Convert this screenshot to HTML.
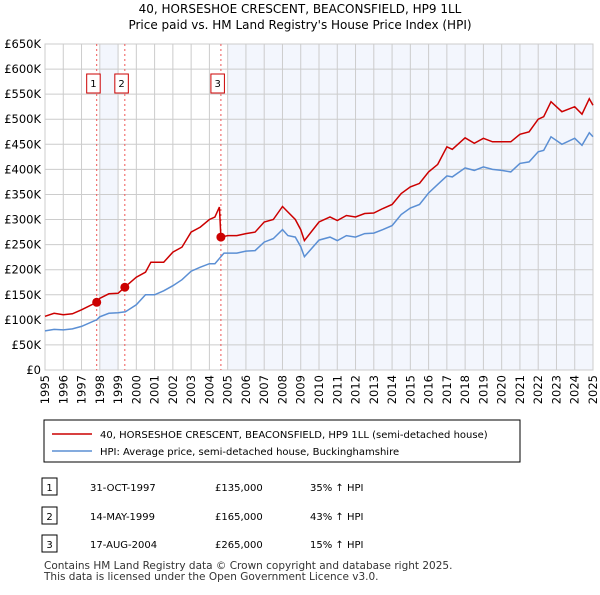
<!DOCTYPE html>
<html><head><meta charset="utf-8"><style>
body{margin:0;background:#fff;font-family:"Liberation Sans","DejaVu Sans",sans-serif;}
svg text{font-family:"DejaVu Sans","Liberation Sans",sans-serif;}
</style></head><body>
<svg width="600" height="590" xmlns="http://www.w3.org/2000/svg" id="chart">
<text x="300" y="13" text-anchor="middle" font-size="12">40, HORSESHOE CRESCENT, BEACONSFIELD, HP9 1LL</text>
<text x="300" y="29" text-anchor="middle" font-size="12">Price paid vs. HM Land Registry's House Price Index (HPI)</text>
<g id="plot"></g>
<rect x="44" y="420" width="476" height="42" fill="#fff" stroke="#000"/>
<line x1="52" y1="434" x2="92" y2="434" stroke="#cc0000" stroke-width="1.5"/>
<text x="100" y="438" font-size="10">40, HORSESHOE CRESCENT, BEACONSFIELD, HP9 1LL (semi-detached house)</text>
<line x1="52" y1="451" x2="92" y2="451" stroke="#5b8fd4" stroke-width="1.5"/>
<text x="100" y="455" font-size="10">HPI: Average price, semi-detached house, Buckinghamshire</text>
<g id="table" font-size="10"></g>
<text x="44" y="569" font-size="10.5" fill="#333">Contains HM Land Registry data © Crown copyright and database right 2025.</text>
<text x="44" y="580" font-size="10.5" fill="#333">This data is licensed under the Open Government Licence v3.0.</text>
</svg>
<script>
const hpiYears=[1995,1995.5,1996,1996.5,1997,1997.83,1998,1998.5,1999,1999.4,2000,2000.5,2001,2001.5,2002,2002.5,2003,2003.5,2004,2004.3,2004.8,2005.5,2006,2006.5,2007,2007.5,2008,2008.3,2008.7,2009,2009.2,2010,2010.6,2011,2011.5,2012,2012.5,2013,2013.5,2014,2014.5,2015,2015.5,2016,2016.5,2017,2017.3,2018,2018.5,2019,2019.5,2020,2020.5,2021,2021.5,2022,2022.3,2022.7,2023.3,2024,2024.4,2024.8,2025];
const hpiValues=[78000,81000,80000,82000,87000,100000,106000,113000,114000,116000,130000,150000,150000,158000,168000,180000,197000,205000,212000,212000,233000,233000,237000,238000,255000,262000,280000,268000,265000,246000,226000,259000,265000,258000,268000,265000,272000,273000,280000,288000,310000,323000,330000,353000,370000,387000,385000,403000,398000,405000,400000,398000,395000,412000,415000,435000,438000,465000,450000,462000,448000,473000,465000];
const redYears=[1995,1995.5,1996,1996.5,1997,1997.83,1998,1998.5,1999,1999.37,2000,2000.5,2000.8,2001.5,2002,2002.5,2003,2003.5,2004,2004.3,2004.55,2004.63,2005,2005.5,2006,2006.5,2007,2007.5,2008,2008.3,2008.7,2009,2009.2,2010,2010.6,2011,2011.5,2012,2012.5,2013,2013.5,2014,2014.5,2015,2015.5,2016,2016.5,2017,2017.3,2018,2018.5,2019,2019.5,2020,2020.5,2021,2021.5,2022,2022.3,2022.7,2023.3,2024,2024.4,2024.8,2025];
const redValues=[107000,113000,110000,112000,120000,135000,143000,152000,153000,165000,185000,195000,215000,215000,235000,245000,275000,285000,300000,305000,325000,265000,268000,268000,272000,275000,295000,300000,326000,315000,300000,280000,258000,295000,305000,298000,308000,305000,312000,313000,322000,330000,352000,365000,372000,395000,410000,445000,440000,463000,452000,462000,455000,455000,455000,470000,475000,500000,505000,535000,515000,525000,510000,541000,528000];
const saleLabels=["1","2","3"];
const saleDates=[1997.83,1999.37,2004.63];
const salePrices=[135000,165000,265000];
const saleDateText=["31-OCT-1997","14-MAY-1999","17-AUG-2004"];
const salePriceText=["£135,000","£165,000","£265,000"];
const saleHpiText=["35% ↑ HPI","43% ↑ HPI","15% ↑ HPI"];
const yTicks=[0,50000,100000,150000,200000,250000,300000,350000,400000,450000,500000,550000,600000,650000];
const yTickLabels=["£0","£50K","£100K","£150K","£200K","£250K","£300K","£350K","£400K","£450K","£500K","£550K","£600K","£650K"];
const xTicks=[1995,1996,1997,1998,1999,2000,2001,2002,2003,2004,2005,2006,2007,2008,2009,2010,2011,2012,2013,2014,2015,2016,2017,2018,2019,2020,2021,2022,2023,2024,2025];
const X0=45,X1=593,Y0=370,Y1=44;
const xs=y=>X0+(y-1995)/30*(X1-X0);
const ys=v=>Y0-v/650000*(Y0-Y1);
const NS="http://www.w3.org/2000/svg";
const plot=document.getElementById('plot');
function mk(t,a,p){const e=document.createElementNS(NS,t);for(const k in a)e.setAttribute(k,a[k]);(p||plot).appendChild(e);return e;}
let e;
e=mk('rect',{x:xs(1998),y:Y1,width:xs(1999)-xs(1998),height:Y0-Y1,fill:'#f3f6fd'});


e=mk('rect',{x:xs(2005),y:Y1,width:xs(2025)-xs(2005),height:Y0-Y1,fill:'#f3f6fd'});


yTicks.forEach((v,i)=>{
 e=mk('line',{x1:X0,x2:X1,y1:ys(v),y2:ys(v),stroke:'#cccccc'});
 
 
 e=mk('text',{x:X0-4,y:ys(v)+4,'text-anchor':'end','font-size':'11.5'});e.textContent=yTickLabels[i];
 
 
});
xTicks.forEach(y=>{
 e=mk('line',{x1:xs(y),x2:xs(y),y1:Y1,y2:Y0,stroke:'#cccccc'});
 
 
 e=mk('text',{x:0,y:0,'font-size':'11.5','text-anchor':'end',transform:`translate(${xs(y)+4},${Y0+5}) rotate(-90)`});e.textContent=y;
 
 
});
e=mk('rect',{x:X0,y:Y1,width:X1-X0,height:Y0-Y1,fill:'none',stroke:'#cccccc'});


saleDates.forEach((d,i)=>{
 e=mk('line',{x1:xs(d),x2:xs(d),y1:Y1,y2:Y0,stroke:'#ee5555','stroke-dasharray':'2,3'});
 
 
 const bx=xs(d)-10;
 e=mk('rect',{x:bx,y:74,width:13.5,height:19,fill:'#fff',stroke:'#cc0000'});
 
 
 e=mk('text',{x:bx+6.75,y:87,'text-anchor':'middle','font-size':'10'});e.textContent=saleLabels[i];
 
 
});
function line(xa,va,col,name){
 e=mk('path',{d:xa.map((y,i)=>(i?'L':'M')+xs(y).toFixed(1)+','+ys(va[i]).toFixed(1)).join(''),fill:'none',stroke:col,'stroke-width':1.5});
 
 
}
line(hpiYears,hpiValues,'#5b8fd4','hpi-line');
line(redYears,redValues,'#cc0000','property-price-line');
saleDates.forEach((d,i)=>{
 e=mk('circle',{cx:xs(d),cy:ys(salePrices[i]),r:4.5,fill:'#cc0000'});
 
 
});
const tb=document.getElementById('table');
[487,516,544].forEach((ry,i)=>{
 e=mk('rect',{x:42,y:ry-9,width:15,height:17,fill:'#fff',stroke:'#000'},tb);
 
 
 e=mk('text',{x:49.5,y:ry+4,'text-anchor':'middle'},tb);e.textContent=saleLabels[i];
 
 
 e=mk('text',{x:90,y:ry+4},tb);e.textContent=saleDateText[i];
 
 
 e=mk('text',{x:215,y:ry+4},tb);e.textContent=salePriceText[i];
 
 
 e=mk('text',{x:310,y:ry+4},tb);e.textContent=saleHpiText[i];
 
 
});
</script>
</body></html>
